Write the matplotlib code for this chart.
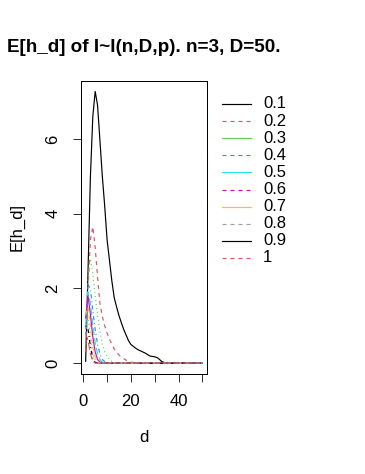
import matplotlib
matplotlib.use("Agg")
import matplotlib.pyplot as plt
from matplotlib.lines import Line2D
import numpy as np

# ==========================================
# DATOS
# ==========================================

d = list(range(1, 51))
p_labels = ["0.1", "0.2", "0.3", "0.4", "0.5", "0.6", "0.7", "0.8", "0.9", "1"]

h01 = [0.05, 2.5, 5.0, 6.6, 7.27, 6.9, 5.95, 5.0, 4.2, 3.3,
       2.75, 2.2, 1.75, 1.5, 1.27, 1.08, 0.9, 0.75, 0.6, 0.5,
       0.45, 0.4, 0.36, 0.33, 0.3, 0.27, 0.23, 0.19, 0.18, 0.17,
       0.15, 0.1, 0.04, 0.02]
h02 = [0.3, 2.0, 3.3, 3.65, 3.1, 2.3, 1.6, 1.25, 1.0, 0.8,
       0.64, 0.5, 0.38, 0.29, 0.22, 0.16, 0.12, 0.08, 0.05, 0.03,
       0.02]
h03 = [0.5, 2.3, 2.8, 2.4, 1.8, 1.3, 0.85, 0.5, 0.3, 0.18,
       0.1, 0.05, 0.02]
h04 = [0.8, 2.1, 2.0, 1.4, 0.9, 0.5, 0.25, 0.1, 0.04]
h05 = [1.0, 1.9, 1.6, 1.0, 0.55, 0.25, 0.1, 0.03]
h06 = [1.2, 1.8, 1.3, 0.7, 0.3, 0.1, 0.03]
h07 = [1.3, 1.5, 1.0, 0.45, 0.15, 0.04]
h08 = [1.2, 1.2, 0.7, 0.25, 0.07]
h09 = [1.0, 0.9, 0.45, 0.12, 0.02]
h10 = [0.8, 0.6, 0.25, 0.05]

series = [h01, h02, h03, h04, h05, h06, h07, h08, h09, h10]

# ==========================================
# ESTILOS (paleta R)
# ==========================================

colores = ["black", "#DF536B", "#61D04F", "#2297E6", "#28E2E5",
           "#CD0BBC", "#F5C710", "#9E9E9E", "black", "#DF536B"]

px = 0.72  # 1 px en puntos a 100 dpi
lw = 0.85
solid = "-"
dashed = (0, (4 * px, 4 * px))
dotted = (0, (1 * px, 3 * px))
dotdash = (0, (1 * px, 3 * px, 4 * px, 3 * px))
longdash = (0, (7 * px, 3 * px))
lty_plot = [solid, dashed, dotted, dotdash, longdash]
lty_leyenda = [solid, dashed]

plt.rcParams["font.family"] = ["Liberation Sans", "DejaVu Sans"]
plt.rcParams["lines.scale_dashes"] = False

fs = 12
W, H = 365, 474
fig = plt.figure(figsize=(W / 100, H / 100), dpi=100)

left, right, top, bottom = 81, 207, 81, 374
ax = fig.add_axes([left / W, 1 - bottom / H, (right - left) / W, (bottom - top) / H])

for i, vals in enumerate(series):
    y = np.zeros(len(d))
    y[:len(vals)] = vals
    ax.plot(d, y, color=colores[i], lw=lw, linestyle=lty_plot[i % 5])

ax.set_xlim(-0.96, 51.96)
ax.set_ylim(-0.29, 7.55)
ax.set_xticks([0, 10, 20, 30, 40, 50])
ax.set_xticklabels(["0", "", "20", "", "40", ""])
ax.set_yticks([0, 2, 4, 6])
ax.tick_params(axis="both", direction="out", length=8 * px, width=px,
               labelsize=fs, color="#333333")
ax.tick_params(axis="x", pad=9)
ax.tick_params(axis="y", pad=9)
for lab in ax.get_yticklabels():
    lab.set_rotation(90)
    lab.set_va("center")
for s in ax.spines.values():
    s.set_linewidth(px)

cx = (left + right) / 2 / W
fig.text(cx, 1 - 48 / H, "E[h_d] of I~I(n,D,p). n=3, D=50.",
         ha="center", va="center", fontsize=13.6, fontweight="bold")
fig.text(cx, 1 - 438 / H, "d", ha="center", va="center", fontsize=fs)
fig.text(17 / W, 1 - (top + bottom) / 2 / H, "E[h_d]", ha="center",
         va="center", rotation=90, fontsize=fs)

# ==========================================
# LEYENDA
# ==========================================

for i, lab in enumerate(p_labels):
    yy = 1 - (104 + i * 17.1) / H
    fig.add_artist(Line2D([222 / W, 251 / W], [yy, yy], transform=fig.transFigure,
                          color=colores[i], lw=lw, linestyle=lty_leyenda[i % 2]))
    fig.text(263 / W, yy, lab, ha="left", va="center", fontsize=fs)

fig.savefig("out.png", dpi=100)
